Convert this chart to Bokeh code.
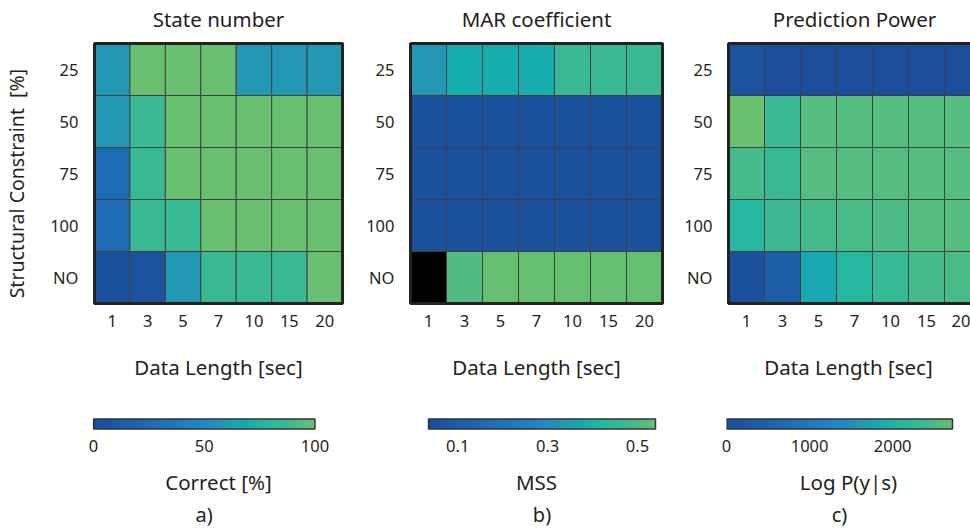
import numpy as np
from bokeh.plotting import figure
from bokeh.models import LinearColorMapper, FixedTicker, ColumnDataSource
from bokeh.core.properties import value
from bokeh.layouts import row, column
from bokeh.transform import transform
from bokeh.embed import file_html
from bokeh.resources import INLINE

# ---------------- data ----------------
data_length = ["1", "3", "5", "7", "10", "15", "20"]
constraint = ["25", "50", "75", "100", "NO"]          # top -> bottom

# State number: correct [%]   (rows follow `constraint`)
state_number = [
    [58, 100, 100, 100, 58, 58, 58],
    [58, 86, 100, 100, 100, 100, 100],
    [25, 86, 100, 100, 100, 100, 100],
    [25, 86, 86, 100, 100, 100, 100],
    [3, 5, 58, 86, 86, 86, 100],
]
# MAR coefficient: MSS  (NaN = not available, drawn black)
mar_coef = [
    [0.328, 0.383, 0.383, 0.383, 0.469, 0.469, 0.469],
    [0.05, 0.05, 0.05, 0.05, 0.05, 0.05, 0.05],
    [0.05, 0.05, 0.05, 0.05, 0.05, 0.05, 0.05],
    [0.05, 0.05, 0.05, 0.05, 0.05, 0.05, 0.05],
    [np.nan, 0.505, 0.535, 0.535, 0.535, 0.535, 0.535],
]
# Prediction power: Log P(y|s)
pred_power = [
    [130, 60, 60, 60, 60, 60, 60],
    [2710, 2340, 2580, 2570, 2570, 2570, 2580],
    [2450, 2340, 2570, 2560, 2560, 2570, 2570],
    [2095, 2370, 2450, 2480, 2500, 2560, 2580],
    [80, 380, 1800, 2095, 2310, 2450, 2480],
]

titles = ["State number", "MAR coefficient", "Prediction Power"]
cbar_labels = ["Correct [%]", "MSS", "Log P(y|s)"]
cbar_ranges = [(0, 100), (0.035, 0.54), (0, 2720)]
cbar_ticks = [[0, 50, 100], [0.1, 0.3, 0.5], [0, 1000, 2000]]
panel_tags = ["a)", "b)", "c)"]

# ---------------- style ----------------
FONT = "Noto Sans"
TXT = "#231f20"
anchors = [(0.0, "#1b4d9a"), (0.5, "#1f88cc"), (0.58, "#2298b4"),
           (0.68, "#15abb0"), (0.76, "#22b8a0"), (0.87, "#3ab993"),
           (1.0, "#67bf6f")]


def hex2rgb(h):
    h = h.lstrip("#")
    return np.array([int(h[i:i + 2], 16) for i in (0, 2, 4)], dtype=float)


ts = np.array([a[0] for a in anchors])
cs = np.array([hex2rgb(a[1]) for a in anchors])
palette = []
for t in np.linspace(0, 1, 256):
    rgb = [np.interp(t, ts, cs[:, k]) for k in range(3)]
    palette.append("#%02x%02x%02x" % tuple(int(round(v)) for v in rgb))

CW, RH = 36, 52          # cell size in px
PAD = 2                   # px padding around the heat map frame
nx, ny = len(data_length), len(constraint)

# column geometry: (x of column on page, width, left border, right border)
geo = [(0, 360, 88, 16), (360, 320, 48, 16), (680, 290, 46, 0)]
# colour bar pixel extent on page
cb_px = [(89, 314), (428, 655), (726, 952)]
TITLE_H = 41
HEAT_H = 395 - TITLE_H
TAG_H = 30
CB_H = 529 - 395 - TAG_H
CB_TOP = 22
CB_FRAME = 14


def heat_xrange(i):
    x0p, width, left, right = geo[i]
    frame_w = width - left - right
    x0 = -PAD / CW
    return (x0, x0 + frame_w / CW)


def title_panel(i):
    x0p, width, left, right = geo[i]
    p = figure(width=width, height=TITLE_H, x_range=heat_xrange(i),
               y_range=(0, TITLE_H), output_backend="svg", toolbar_location=None,
               x_axis_location=None, y_axis_location=None,
               min_border_left=left, min_border_right=right,
               min_border_top=0, min_border_bottom=0)
    p.outline_line_color = None
    p.grid.visible = False
    p.text(x=[nx / 2], y=[TITLE_H - 18], text=[titles[i]], text_align="center",
           text_baseline="middle", text_font=value(FONT),
           text_font_size="20.5px", text_color=TXT)
    return p


def heat_panel(i, values):
    x0p, width, left, right = geo[i]
    lo, hi = cbar_ranges[i]
    frame_h = ny * RH + 2 * PAD
    p = figure(width=width, height=HEAT_H, x_range=heat_xrange(i),
               y_range=(-PAD / RH, ny + PAD / RH),
               output_backend="svg", toolbar_location=None,
               min_border_left=left, min_border_right=right,
               min_border_top=0, min_border_bottom=HEAT_H - frame_h)

    xs, ys, vs = [], [], []
    for r in range(ny):
        for c in range(nx):
            xs.append(c + 0.5)
            ys.append(ny - 1 - r + 0.5)
            vs.append(values[r][c])
    src = ColumnDataSource(dict(x=xs, y=ys, v=np.array(vs, dtype=float)))
    mapper = LinearColorMapper(palette=palette, low=lo, high=hi, nan_color="black")
    p.rect(x="x", y="y", width=1, height=1, source=src,
           fill_color=transform("v", mapper), line_color="#404040", line_width=1)
    p.quad(left=0, right=nx, bottom=0, top=ny, fill_color=None,
           line_color="#222222", line_width=3)

    p.outline_line_color = None
    p.grid.visible = False
    p.xaxis.ticker = FixedTicker(ticks=[c + 0.5 for c in range(nx)])
    p.xaxis.major_label_overrides = {c + 0.5: data_length[c] for c in range(nx)}
    p.yaxis.ticker = FixedTicker(ticks=[ny - 1 - r + 0.5 for r in range(ny)])
    p.yaxis.major_label_overrides = {ny - 1 - r + 0.5: constraint[r] for r in range(ny)}
    p.xaxis.axis_label = "Data Length [sec]"
    if i == 0:
        p.yaxis.axis_label = "Structural Constraint\u00a0\u00a0[%]" + "\u00a0" * 4
    for ax in (p.xaxis[0], p.yaxis[0]):
        ax.axis_line_color = None
        ax.major_tick_line_color = None
        ax.minor_tick_line_color = None
        ax.major_label_text_font = FONT
        ax.major_label_text_font_size = "16.5px"
        ax.major_label_text_color = TXT
        ax.axis_label_text_font = FONT
        ax.axis_label_text_font_size = "20.5px"
        ax.axis_label_text_font_style = "normal"
        ax.axis_label_text_color = TXT
    p.yaxis.axis_label_text_font_size = "19.5px"
    p.xaxis.major_label_standoff = 3
    p.xaxis.axis_label_standoff = 23
    p.yaxis.major_label_standoff = 8
    p.yaxis.axis_label_standoff = 17
    return p


def cbar_xrange(i):
    x0p, width, left, right = geo[i]
    lo, hi = cbar_ranges[i]
    bl, br = cb_px[i]
    fl, fr = x0p + left, x0p + width - right
    sc = (hi - lo) / (br - bl)
    return (lo - (bl - fl) * sc, hi + (fr - br) * sc)


def cbar_panel(i):
    x0p, width, left, right = geo[i]
    lo, hi = cbar_ranges[i]
    # 10 px per y unit; bar (0..1) sits 1.5 px below frame top
    yr = (1.15 - CB_FRAME / 10.0, 1.15)
    p = figure(width=width, height=CB_H, x_range=cbar_xrange(i), y_range=yr,
               output_backend="svg", toolbar_location=None, y_axis_location=None,
               min_border_left=left, min_border_right=right,
               min_border_top=CB_TOP, min_border_bottom=CB_H - CB_TOP - CB_FRAME)
    grad = np.linspace(lo, hi, 256)[None, :]
    mapper = LinearColorMapper(palette=palette, low=lo, high=hi)
    p.image(image=[grad], x=lo, y=0, dw=hi - lo, dh=1, color_mapper=mapper)
    p.quad(left=lo, right=hi, bottom=0, top=1, fill_color=None,
           line_color="#333333", line_width=1.5)
    p.outline_line_color = None
    p.grid.visible = False
    ax = p.xaxis[0]
    ax.ticker = FixedTicker(ticks=cbar_ticks[i])
    ax.axis_line_color = None
    ax.major_tick_line_color = None
    ax.minor_tick_line_color = None
    ax.major_label_text_font = FONT
    ax.major_label_text_font_size = "16.5px"
    ax.major_label_text_color = TXT
    ax.major_label_standoff = 2
    ax.axis_label = cbar_labels[i]
    ax.axis_label_text_font = FONT
    ax.axis_label_text_font_size = "20.5px"
    ax.axis_label_text_font_style = "normal"
    ax.axis_label_text_color = TXT
    ax.axis_label_standoff = 13
    return p


def tag_panel(i):
    x0p, width, left, right = geo[i]
    lo, hi = cbar_ranges[i]
    p = figure(width=width, height=TAG_H, x_range=cbar_xrange(i), y_range=(0, TAG_H),
               output_backend="svg", toolbar_location=None,
               x_axis_location=None, y_axis_location=None,
               min_border_left=left, min_border_right=right,
               min_border_top=0, min_border_bottom=0)
    p.outline_line_color = None
    p.grid.visible = False
    p.text(x=[(lo + hi) / 2], y=[15], text=[panel_tags[i]], text_align="center",
           text_baseline="middle", text_font=value(FONT),
           text_font_size="20px", text_color=TXT)
    return p


values_all = [state_number, mar_coef, pred_power]
cols = [column(title_panel(i), heat_panel(i, values_all[i]), cbar_panel(i), tag_panel(i))
        for i in range(3)]
layout = row(*cols)

open("out.html", "w").write(file_html(layout, INLINE))
